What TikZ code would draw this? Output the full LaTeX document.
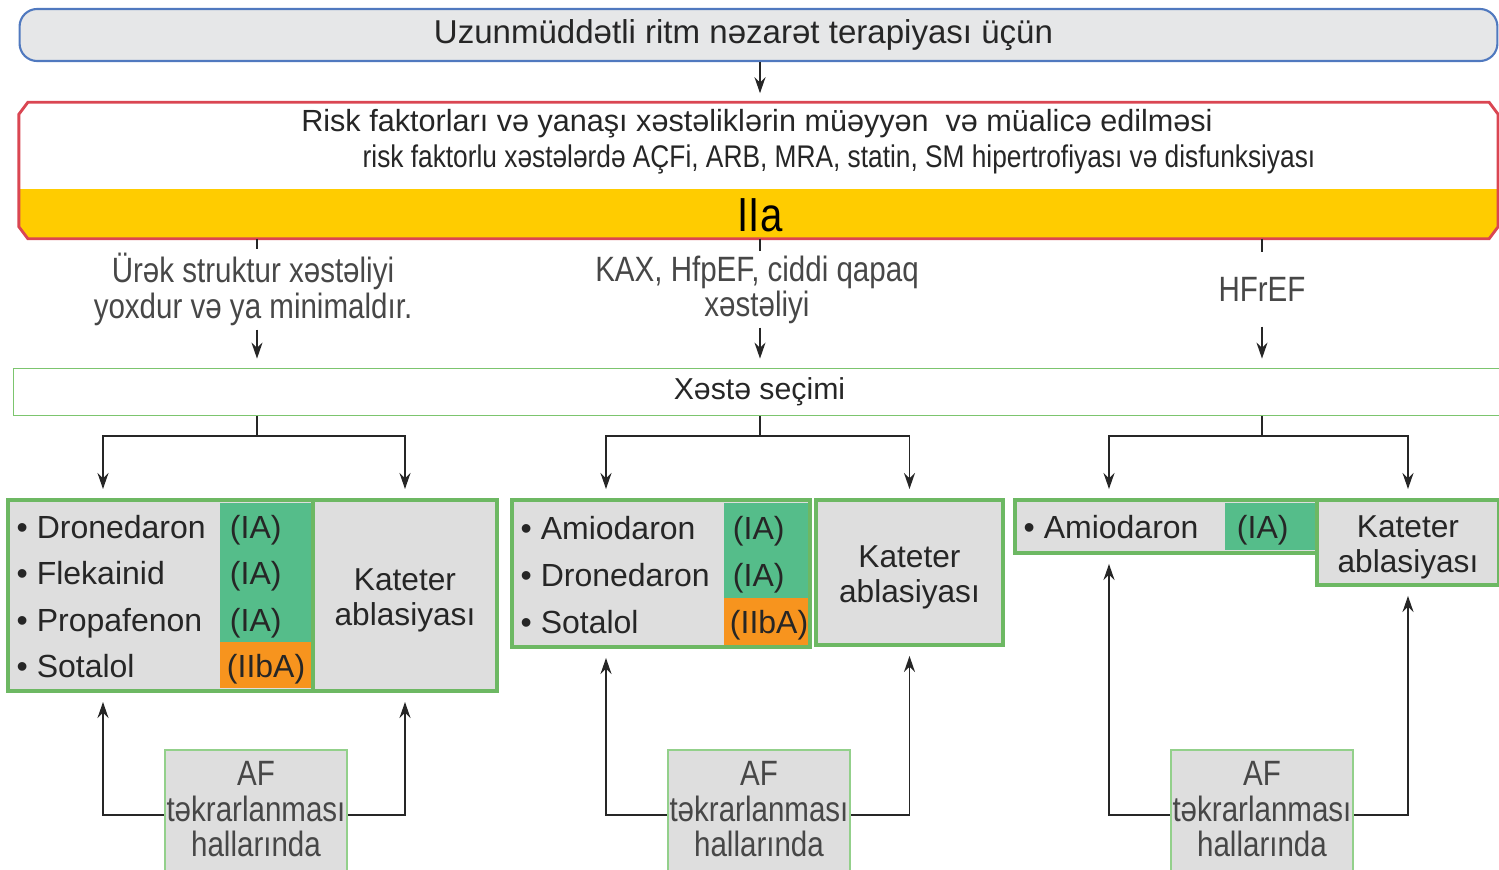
\documentclass[tikz,border=0pt]{standalone}
\usepackage{fontspec}
\setmainfont{Liberation Sans}
\newfontfamily\narrowfont[FakeStretch=0.84]{Liberation Sans}
\usepackage{xcolor}
\usepackage{tikz}
\usetikzlibrary{arrows.meta,positioning,calc}

\definecolor{topgrey}{HTML}{E6E7E8}
\definecolor{topedge}{HTML}{5079BF}
\definecolor{riskred}{HTML}{DA4652}
\definecolor{bandyellow}{HTML}{FFCC00}
\definecolor{boxgreen}{HTML}{6DB863}
\definecolor{selgreen}{HTML}{7CC56E}
\definecolor{afgreen}{HTML}{93D08B}
\definecolor{classgreen}{HTML}{55BD8A}
\definecolor{classorange}{HTML}{F7941E}
\definecolor{cellgrey}{HTML}{DEDEDE}
\definecolor{inkgrey}{HTML}{262626}

\begin{document}
\begin{tikzpicture}[x=0.01cm, y=-0.01cm,
    topbox/.style={draw=topedge, fill=topgrey, line width=0.6pt, rounded corners=5pt, minimum width=14.77cm, minimum height=0.52cm, inner sep=0pt, font=\fontsize{9.4}{10}\selectfont, text=inkgrey},
    riskbox/.style={minimum width=14.77cm, minimum height=1.35cm, inner sep=0pt},
    selbox/.style={draw=selgreen, line width=0.5pt, minimum width=14.91cm, minimum height=0.47cm, inner sep=0pt, font=\fontsize{8.6}{9}\selectfont, text=inkgrey},
    branch/.style={align=center, minimum height=0.73cm, inner sep=1pt, font=\narrowfont\fontsize{10}{10}\selectfont, text=inkgrey!85},
    grpbox/.style={draw=boxgreen, fill=cellgrey, line width=1.1pt, inner sep=0pt},
    katbox/.style={grpbox, align=center, font=\fontsize{9}{10}\selectfont, text=inkgrey},
    drug/.style={anchor=west, inner sep=0pt, text height=7.8pt, text depth=0.8pt, font=\fontsize{9.1}{10}\selectfont, text=inkgrey},
    cls/.style={text width=#1, align=left, inner ysep=0pt, text height=7.8pt, text depth=0.8pt, font=\fontsize{9.1}{10}\selectfont, text=inkgrey},
    ia/.style={cls=#1, fill=classgreen},
    iib/.style={cls=#1, fill=classorange},
    afbox/.style={draw=afgreen, fill=cellgrey, line width=0.6pt, minimum width=1.82cm, minimum height=1.3cm, inner sep=0pt, align=center, font=\narrowfont\fontsize{10}{10.2}\selectfont, text=inkgrey!85},
    link/.style={line width=0.45pt, draw=inkgrey},
    arrow/.style={link, -{Stealth[length=1.6mm, width=1.1mm]}, shorten >=0.09cm}
]
\useasboundingbox (0,0) rectangle (1499,870);

% Title
\node[topbox] (top) at (758.5,35) {Uzunmüddətli ritm nəzarət terapiyası üçün\hspace*{0.3cm}};

% Risk factors box with IIa band
\node[riskbox] (risk) at (758.5,170.5) {};
\draw[riskred, line width=0.8pt, fill=white,
    path picture={\fill[bandyellow] (risk.south west) rectangle ([yshift=0.5cm]risk.south east);}]
    ([xshift=0.09cm]risk.north west) -- ([xshift=-0.09cm]risk.north east)
    -- ([yshift=-0.12cm]risk.north east) -- ([yshift=0.12cm]risk.south east)
    -- ([xshift=-0.09cm]risk.south east) -- ([xshift=0.09cm]risk.south west)
    -- ([yshift=0.12cm]risk.south west) -- ([yshift=-0.12cm]risk.north west) -- cycle;
\node[font=\fontsize{8.7}{9}\selectfont, text=inkgrey] (risk1) at (757,124) {Risk faktorları və yanaşı xəstəliklərin müəyyən \ və müalicə edilməsi};
\node[font=\narrowfont\fontsize{8.9}{9}\selectfont, text=inkgrey] (risk2) at (839,159) {risk faktorlu xəstələrdə AÇFi, ARB, MRA, statin, SM hipertrofiyası və disfunksiyası};
\node[font=\narrowfont\fontsize{13.6}{14}\selectfont, text=black] (iia) at (760,215) {IIa};

% Branches
\coordinate (j1) at (257,436);
\coordinate (j2) at (760,436);
\coordinate (j3) at (1262,436);
\coordinate (c1l) at (103,436);
\coordinate (c2l) at (606,436);
\coordinate (c3l) at (1109,436);

\node[branch] (b1) at (253,289.5) {Ürək struktur xəstəliyi\\yoxdur və ya minimaldır.};
\node[branch] (b2) at (757,289.5) {KAX, HfpEF, ciddi qapaq\\xəstəliyi};
\node[branch] (b3) at (1262,289.5) {HFrEF};

\node[selbox] (sec) at (759.5,392) {Xəstə seçimi};

% Group 1
\node[grpbox, minimum width=4.89cm, minimum height=1.91cm] (g1) at (252.5,595.5) {};
\node[katbox, minimum width=1.84cm, minimum height=1.91cm] (k1) at (405,595.5) {\rule{0pt}{9.2pt}Kateter\\ablasiyası};
\node[ia=0.71cm, inner xsep=0.1cm, minimum height=0.463cm] (g1c1) at (265.5,526.2) {(IA)};
\node[ia=0.71cm, inner xsep=0.1cm, minimum height=0.463cm] (g1c2) at (265.5,572.5) {(IA)};
\node[ia=0.71cm, inner xsep=0.1cm, minimum height=0.463cm] (g1c3) at (265.5,618.8) {(IA)};
\node[iib=0.77cm, inner xsep=0.07cm, minimum height=0.46cm] (g1c4) at (265.5,665) {(IIbA)};
\node[drug] (g1d1) at (16,526.2) {\textbullet\ Dronedaron};
\node[drug] (g1d2) at (16,572.5) {\textbullet\ Flekainid};
\node[drug] (g1d3) at (16,618.8) {\textbullet\ Propafenon};
\node[drug] (g1d4) at (16,665) {\textbullet\ Sotalol};

% Group 2
\node[grpbox, minimum width=2.98cm, minimum height=1.47cm] (g2) at (661,573.5) {};
\node[katbox, minimum width=1.87cm, minimum height=1.45cm] (k2) at (909.5,572.5) {\rule{0pt}{9.2pt}Kateter\\ablasiyası};
\node[ia=0.66cm, inner xsep=0.09cm, minimum height=0.475cm] (g2c1) at (766,526.75) {(IA)};
\node[ia=0.66cm, inner xsep=0.09cm, minimum height=0.475cm] (g2c2) at (766,574.25) {(IA)};
\node[iib=0.72cm, inner xsep=0.06cm, minimum height=0.47cm] (g2c3) at (766,621.5) {(IIbA)};
\node[drug] (g2d1) at (520,526.75) {\textbullet\ Amiodaron};
\node[drug] (g2d2) at (520,574.25) {\textbullet\ Dronedaron};
\node[drug] (g2d3) at (520,621.5) {\textbullet\ Sotalol};

% Group 3
\node[grpbox, minimum width=3.02cm, minimum height=0.53cm] (g3) at (1166,526.5) {};
\node[katbox, minimum width=1.82cm, minimum height=0.85cm] (k3) at (1408,542.5) {\rule{0pt}{9.2pt}Kateter\\ablasiyası};
\node[ia=0.66cm, inner xsep=0.12cm, minimum height=0.47cm] (g3c1) at (1270,526.5) {(IA)};
\node[drug] (g3d1) at (1023,526.5) {\textbullet\ Amiodaron};

% Recurrence boxes
\node[afbox] (af1) at (256,815) {AF\\təkrarlanması\\hallarında\rule[-3.4pt]{0pt}{3.4pt}};
\node[afbox] (af2) at (759,815) {AF\\təkrarlanması\\hallarında\rule[-3.4pt]{0pt}{3.4pt}};
\node[afbox] (af3) at (1262,815) {AF\\təkrarlanması\\hallarında\rule[-3.4pt]{0pt}{3.4pt}};

% Connectors
\draw[arrow] (top.south -| j2) -- (risk.north -| j2);
\draw[link] (risk.south -| j1) -- (b1.north -| j1);
\draw[link] (risk.south -| j2) -- (b2.north -| j2);
\draw[link] (risk.south -| j3) -- (b3.north -| j3);
\draw[arrow] (b1.south -| j1) -- (sec.north -| j1);
\draw[arrow] (b2.south -| j2) -- (sec.north -| j2);
\draw[arrow] (b3.south -| j3) -- (sec.north -| j3);

\draw[arrow] (sec.south -| j1) -- (j1) -| (c1l |- g1.north);
\draw[arrow] (j1) -| (k1.north);
\draw[arrow] (sec.south -| j2) -- (j2) -| (c2l |- g2.north);
\draw[arrow] (j2) -| (k2.north);
\draw[arrow] (sec.south -| j3) -- (j3) -| (c3l |- g3.north);
\draw[arrow] (j3) -| (k3.north);

\draw[arrow] (af1.west) -| (c1l |- g1.south);
\draw[arrow] (af1.east) -| (k1.south);
\draw[arrow] (af2.west) -| (c2l |- g2.south);
\draw[arrow] (af2.east) -| (k2.south);
\draw[arrow] (af3.west) -| (c3l |- g3.south);
\draw[arrow] (af3.east) -| (k3.south);

\end{tikzpicture}
\end{document}
